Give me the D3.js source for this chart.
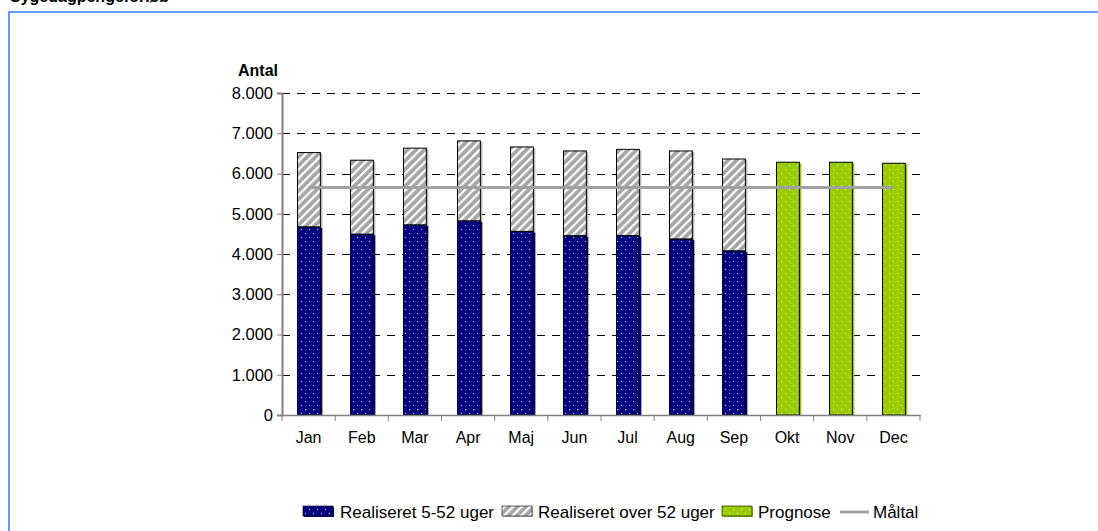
<!DOCTYPE html>
<html>
<head>
<meta charset="utf-8">
<script src="https://cdn.jsdelivr.net/npm/d3@7"></script>
<style>
  body { margin: 0; background: #fff; }
  svg { display: block; font-family: "Liberation Sans", Arial, sans-serif; }
</style>
</head>
<body>
<svg id="svg" width="1098" height="531"></svg>
<script>
var months = ["Jan", "Feb", "Mar", "Apr", "Maj", "Jun", "Jul", "Aug", "Sep", "Okt", "Nov", "Dec"];
var realiseret552 = [4670, 4490, 4720, 4820, 4560, 4450, 4455, 4370, 4075, null, null, null];
var realiseretOver52 = [1850, 1840, 1910, 1990, 2100, 2110, 2145, 2190, 2285, null, null, null];
var prognose = [null, null, null, null, null, null, null, null, null, 6280, 6280, 6255];
var maaltal = [5650, 5650, 5650, 5650, 5650, 5650, 5650, 5650, 5650, 5650, 5650, 5650];
var yTicks = [0, 1000, 2000, 3000, 4000, 5000, 6000, 7000, 8000];

var svg = d3.select("#svg");
var fmt = d3.format(",.0f");
function danish(v) { return fmt(v).replace(/,/g, "."); }

// patterns
var defs = svg.append("defs");
function dots(id, color) {
  var p = defs.append("pattern").attr("id", id).attr("patternUnits", "userSpaceOnUse")
    .attr("width", 8).attr("height", 8);
  p.append("rect").attr("width", 8).attr("height", 8).attr("fill", color);
  p.append("rect").attr("x", 1).attr("y", 1).attr("width", 1).attr("height", 1).attr("fill", "#fff").attr("opacity", 0.8);
  p.append("rect").attr("x", 5).attr("y", 5).attr("width", 1).attr("height", 1).attr("fill", "#fff").attr("opacity", 0.8);
}
dots("dotBlue", "#000080");
dots("dotGreen", "#99cc00");
var hp = defs.append("pattern").attr("id", "hatch").attr("patternUnits", "userSpaceOnUse")
  .attr("width", 6).attr("height", 6).attr("patternTransform", "rotate(45)");
hp.append("rect").attr("width", 6).attr("height", 6).attr("fill", "#a6a6a6");
hp.append("rect").attr("width", 2.2).attr("height", 6).attr("fill", "#ffffff");

// frame and title
svg.append("text").attr("x", 10).attr("y", 2).attr("font-size", 16).attr("font-weight", "bold")
  .text("Sygedagpengeforløb");
svg.append("path").attr("d", "M9,531 V12 H1098").attr("fill", "none")
  .attr("stroke", "#6699ff").attr("stroke-width", 2);

var pLeft = 282, pRight = 920, pTop = 93, pBottom = 415;
var x = d3.scaleBand().domain(months).range([pLeft, pRight]).paddingInner(0.57).paddingOuter(0.285);
var x0 = d3.scaleBand().domain(months).range([pLeft, pRight]);
var y = d3.scaleLinear().domain([0, 8000]).range([pBottom, pTop]);

// grid
svg.append("g").selectAll("line").data(yTicks.slice(1)).enter().append("line")
  .attr("x1", pLeft).attr("x2", pRight)
  .attr("y1", function (d) { return Math.round(y(d)) + 0.5; }).attr("y2", function (d) { return Math.round(y(d)) + 0.5; })
  .attr("stroke", "#000").attr("stroke-dasharray", "8,7").attr("stroke-width", 1);

// bars
var data = months.map(function (m, i) {
  return { m: m, a: realiseret552[i], b: realiseretOver52[i], p: prognose[i] };
});
var bw = x.bandwidth();
var g = svg.append("g");
function bar(x1, y0v, y1v, fill, shadow) {
  var yt = y(y1v), yb = y(y0v);
  g.append("rect").attr("x", x1 + 2).attr("y", yt + 1).attr("width", bw).attr("height", yb - yt)
    .attr("fill", shadow);
  g.append("rect").attr("x", x1).attr("y", yt).attr("width", bw).attr("height", yb - yt)
    .attr("fill", fill).attr("stroke", "#000").attr("stroke-width", 1);
}
data.forEach(function (d) {
  var bx = Math.round(x(d.m)) + 0.5;
  if (d.a != null) {
    bar(bx, d.a, d.a + d.b, "url(#hatch)", "#b8b8b8");
    bar(bx, 0, d.a, "url(#dotBlue)", "#000080");
  }
  if (d.p != null) bar(bx, 0, d.p, "url(#dotGreen)", "#99cc00");
});

// axes
var yAxis = svg.append("g").attr("transform", "translate(" + pLeft + ",0)")
  .call(d3.axisLeft(y).tickValues(yTicks).tickSize(5).tickPadding(4).tickFormat(danish));
yAxis.select(".domain").attr("stroke", "#808080").attr("stroke-width", 2);
yAxis.selectAll(".tick line").attr("stroke", "#808080");
yAxis.selectAll("text").attr("font-size", 16.5).attr("fill", "#000").attr("font-family", "Liberation Sans, Arial, sans-serif");

var xAxis = svg.append("g").attr("transform", "translate(0," + pBottom + ")")
  .call(d3.axisBottom(x0).tickSize(0).tickPadding(17));
xAxis.select(".domain").attr("stroke", "#808080").attr("stroke-width", 1.5);
xAxis.selectAll("text").attr("font-size", 16).attr("fill", "#000").attr("font-family", "Liberation Sans, Arial, sans-serif");
xAxis.selectAll(".edge").data(d3.range(months.length + 1)).enter().append("line")
  .attr("x1", function (i) { return pLeft + i * x0.step(); })
  .attr("x2", function (i) { return pLeft + i * x0.step(); })
  .attr("y1", 0).attr("y2", 6).attr("stroke", "#808080");

svg.append("text").attr("x", 238).attr("y", 76).attr("font-size", 16).attr("font-weight", "bold").text("Antal");

// target line
var line = d3.line().x(function (d, i) { return x0(months[i]) + x0.bandwidth() / 2; }).y(function (d) { return y(d); });
svg.append("path").datum(maaltal).attr("d", line).attr("fill", "none")
  .attr("stroke", "#a0a0a0").attr("stroke-width", 3);

// legend
var lg = svg.append("g").attr("font-size", 17);
var ly = 512;
function swatch(x1, fill, shadow) {
  lg.append("rect").attr("x", x1 + 1).attr("y", ly - 5).attr("width", 30).attr("height", 10).attr("fill", shadow);
  lg.append("rect").attr("x", x1).attr("y", ly - 6).attr("width", 30).attr("height", 10).attr("fill", fill)
    .attr("stroke", "#000").attr("stroke-width", 0.6);
}
swatch(303, "url(#dotBlue)", "#000080");
lg.append("text").attr("x", 340).attr("y", ly + 6).text("Realiseret 5-52 uger");
swatch(502, "url(#hatch)", "#b8b8b8");
lg.append("text").attr("x", 538).attr("y", ly + 6).text("Realiseret over 52 uger");
swatch(722, "url(#dotGreen)", "#99cc00");
lg.append("text").attr("x", 758).attr("y", ly + 6).text("Prognose");
lg.append("line").attr("x1", 840).attr("x2", 869).attr("y1", ly).attr("y2", ly).attr("stroke", "#a0a0a0").attr("stroke-width", 3);
lg.append("text").attr("x", 873).attr("y", ly + 6).text("Måltal");
</script>
</body>
</html>
